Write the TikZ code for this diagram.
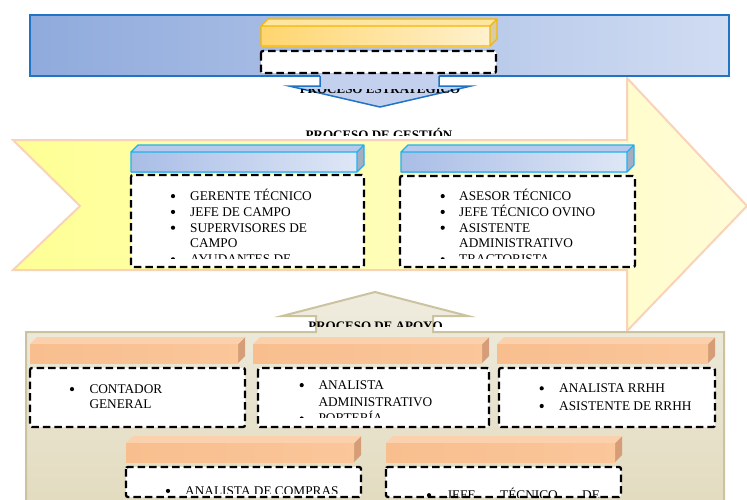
\documentclass[tikz,border=0pt]{standalone}
\usepackage{fontspec}
\setmainfont{Liberation Serif}

\definecolor{stratA}{HTML}{8FAADC}
\definecolor{stratB}{HTML}{D0DCF2}
\definecolor{stratline}{HTML}{2173C6}
\definecolor{arrowblue}{HTML}{C3D1EF}
\definecolor{chevA}{HTML}{FFFF95}
\definecolor{chevB}{HTML}{FFFCD8}
\definecolor{chevline}{HTML}{F8D3B8}
\definecolor{apoA}{HTML}{EFECDF}
\definecolor{apoB}{HTML}{E2DBBF}
\definecolor{apoline}{HTML}{CBC39F}

\tikzset{
  dashbox/.style={draw=black, fill=white, line width=2.3pt, dash pattern=on 7.5pt off 4pt, rounded corners=2pt},
  listtxt/.style={anchor=base west, inner sep=0pt, font=\fontsize{13.3}{16}\selectfont},
  bul/.style={circle, fill=black, inner sep=0pt, minimum size=4.2pt, yshift=4.4pt},
  proctitle/.style={anchor=base, inner sep=0pt, font=\fontsize{13}{15}\selectfont\bfseries},
  % 3d bars
  bluefront/.style={left color={rgb,255:red,169;green,189;blue,230}, right color={rgb,255:red,223;green,231;blue,246}},
  bluetop/.style={fill={rgb,255:red,184;green,201;blue,238}},
  blueside/.style={fill={rgb,255:red,164;green,174;blue,195}},
  blueedge/.style={draw={rgb,255:red,33;green,177;blue,233}, line width=1.3pt},
  goldfront/.style={left color={rgb,255:red,255;green,213;blue,111}, right color={rgb,255:red,255;green,241;blue,205}},
  goldtop/.style={fill={rgb,255:red,255;green,230;blue,160}},
  goldside/.style={fill={rgb,255:red,216;green,204;blue,168}},
  goldedge/.style={draw={rgb,255:red,244;green,183;blue,0}, line width=1.3pt},
  orangefront/.style={left color={rgb,255:red,248;green,190;blue,142}, right color={rgb,255:red,250;green,198;blue,154}},
  orangetop/.style={fill={rgb,255:red,251;green,208;blue,172}},
  orangeside/.style={fill={rgb,255:red,213;green,158;blue,120}},
  orangeedge/.style={draw=none},
}

% front face (#1,#2)-(#3,#4), look #5
\newcommand{\prism}[5]{%
  \fill[#5side] (#3,#2) -- ++(7,-7) -- ++(0,{#4-#2}) -- (#3,#4) -- cycle;
  \fill[#5top] (#1,#2) -- ++(7,-7) -- ({#3+7},{#2-7}) -- (#3,#2) -- cycle;
  \shade[#5front] (#1,#2) rectangle (#3,#4);
  \draw[#5edge, line join=round] (#1,#4) -- (#1,#2) -- ++(7,-7) -- ({#3+7},{#2-7}) -- ({#3+7},{#4-7}) -- (#3,#4) -- cycle
    (#1,#2) -- (#3,#2) -- ({#3+7},{#2-7}) (#3,#2) -- (#3,#4);
}

\begin{document}
\begin{tikzpicture}[x=1pt, y=-1pt]
\useasboundingbox (0,0) rectangle (747,499);

% proceso de gestion (chevron)
\shadedraw[left color=chevA, right color=chevB, draw=chevline, line width=2pt]
  (13,140) -- (627,140) -- (627,78) -- (747,206) -- (627,331) -- (627,270) -- (13,270) -- (80,206) -- cycle;

% proceso estrategico
\shadedraw[left color=stratA, right color=stratB, draw=stratline, line width=1.5pt] (30,15) rectangle (729,76);
\fill[arrowblue] (320,74) -- (320,86) -- (289,86) -- (380,107) -- (471,86) -- (439,86) -- (439,74) -- cycle;
\draw[stratline, line width=1.5pt] (320,76) -- (320,86) -- (289,86) -- (380,107) -- (471,86) -- (439,86) -- (439,76);
\begin{scope}
  \clip (285,89) rectangle (475,100);
  \node[proctitle] (estr) at (380,93) {PROCESO ESTRATÉGICO};
\end{scope}
\prism{261}{26}{490}{46}{gold}
\draw[dashbox] (261,51) rectangle (496,73);

\begin{scope}
  \clip (285,120) rectangle (475,135);
  \node[proctitle] (gest) at (379,139.5) {PROCESO DE GESTIÓN};
\end{scope}

% gestion boxes
\prism{131}{152}{357}{172}{blue}
\prism{401}{152}{627}{172}{blue}
\draw[dashbox] (131,175) rectangle (364,267);
\draw[dashbox] (400,176) rectangle (635,267);
\begin{scope}
  \clip (131,175) rectangle (364,258.5);
  \foreach \b/\t [count=\i] in {1/GERENTE TÉCNICO, 1/JEFE DE CAMPO, 1/SUPERVISORES DE, 0/CAMPO, 1/AYUDANTES DE} {
    \node[listtxt] (tec-\i) at (190,{200.5+15.8*(\i-1)}) {\t};
    \ifnum\b=1 \node[bul] (tecb-\i) at (173,{200.5+15.8*(\i-1)}) {}; \fi
  }
\end{scope}
\begin{scope}
  \clip (400,176) rectangle (635,258.5);
  \foreach \b/\t [count=\i] in {1/ASESOR TÉCNICO, 1/JEFE TÉCNICO OVINO, 1/ASISTENTE, 0/ADMINISTRATIVO, 1/TRACTORISTA} {
    \node[listtxt] (ovi-\i) at (459,{200.5+15.8*(\i-1)}) {\t};
    \ifnum\b=1 \node[bul] (ovib-\i) at (442.7,{200.5+15.8*(\i-1)}) {}; \fi
  }
\end{scope}

% proceso de apoyo
\shadedraw[top color=apoA, bottom color=apoB, draw=apoline, line width=2pt]
  (26,332) -- (316,332) -- (316,316) -- (282,316) -- (375,292) -- (468,316) -- (433,316) -- (433,332)
  -- (724,332) -- (724,510) -- (26,510) -- cycle;
\begin{scope}
  \clip (295,315) rectangle (455,326.5);
  \node[proctitle] (apoyo) at (375.5,330) {PROCESO DE APOYO};
\end{scope}

\prism{30}{344}{238}{363}{orange}
\prism{253}{344}{482}{363}{orange}
\prism{497}{344}{708}{363}{orange}
\prism{126}{443}{354}{462}{orange}
\prism{386}{443}{615}{462}{orange}
\draw[dashbox] (30,368) rectangle (245,427);
\draw[dashbox] (258,368) rectangle (489,427);
\draw[dashbox] (499,368) rectangle (715,427);
\draw[dashbox] (126,467) rectangle (361,497);
\draw[dashbox] (386,467) rectangle (621,497);

\node[bul] (contb) at (72,393.5) {};
\node[listtxt] (cont-1) at (89.3,393.5) {CONTADOR};
\node[listtxt] (cont-2) at (89.3,408.5) {GENERAL};

\begin{scope}
  \clip (258,368) rectangle (489,417.5);
  \foreach \b/\t [count=\i] in {1/ANALISTA, 0/ADMINISTRATIVO, 1/PORTERÍA} {
    \node[listtxt] (adm-\i) at (318.3,{389.5+16.7*(\i-1)}) {\t};
    \ifnum\b=1 \node[bul] (admb-\i) at (301.7,{389.5+16.7*(\i-1)}) {}; \fi
  }
\end{scope}

\foreach \t [count=\i] in {ANALISTA RRHH, ASISTENTE DE RRHH} {
  \node[listtxt] (rh-\i) at (559,{392.7+17.7*(\i-1)}) {\t};
  \node[bul] (rhb-\i) at (541.7,{392.7+17.7*(\i-1)}) {};
}

\begin{scope}
  \clip (126,467) rectangle (361,493);
  \node[bul] (compb) at (168,495.3) {};
  \node[listtxt] (comp) at (185,495.3) {ANALISTA DE COMPRAS};
\end{scope}
\begin{scope}
  \clip (386,467) rectangle (621,497);
  \node[bul] (jefeb) at (429,499.6) {};
  \node[listtxt] (jefe) at (446.7,499.6) {\makebox[153pt][s]{JEFE TÉCNICO DE}};
\end{scope}
\end{tikzpicture}
\end{document}
